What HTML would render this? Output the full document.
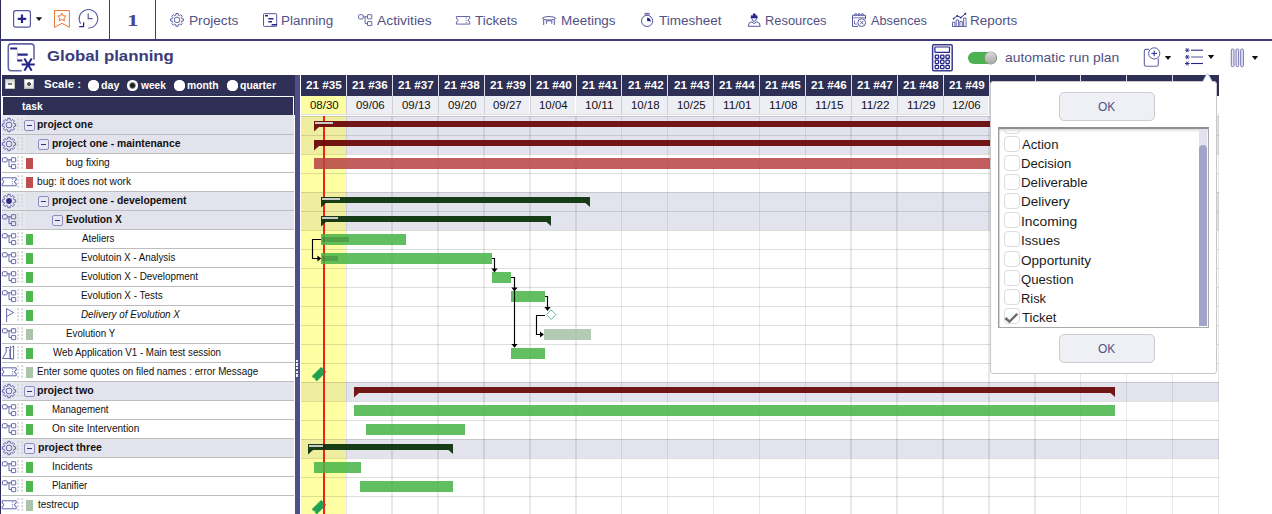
<!DOCTYPE html>
<html><head><meta charset="utf-8"><title>Global planning</title>
<style>
html,body{margin:0;padding:0;background:#fff;}
html{width:1272px;height:514px;overflow:hidden;}
body{width:1272px;height:514px;overflow:hidden;position:relative;font-family:"Liberation Sans",sans-serif;}
.t{position:absolute;white-space:nowrap;line-height:1;transform-origin:0 0;display:block;}
.b{position:absolute;}
svg{position:absolute;left:0;top:0;overflow:visible;}
</style></head><body>
<div id="app" style="position:absolute;left:0;top:0;width:1272px;height:514px;overflow:hidden">
<div class="b" style="left:0.00px;top:0.00px;width:1.00px;height:514.00px;background:#2c2c58"></div>
<div class="b" style="left:0.00px;top:39.00px;width:1272.00px;height:2.00px;background:#3c3c78"></div>
<div class="b" style="left:109.00px;top:0.00px;width:1.00px;height:39.00px;background:#3c3c78"></div>
<div class="b" style="left:155.00px;top:0.00px;width:1.00px;height:39.00px;background:#3c3c78"></div>
<div class="b" style="left:2.00px;top:75.00px;width:293.00px;height:21.00px;background:#2e2f54"></div>
<div class="b" style="left:2.00px;top:96.00px;width:293.00px;height:19.00px;background:#2e2f54"></div>
<div class="b" style="left:2.00px;top:96.00px;width:292.00px;height:1.00px;background:#fff"></div>
<div class="b" style="left:2.00px;top:97.00px;width:1.00px;height:18.00px;background:#fff"></div>
<div class="b" style="left:293.00px;top:97.00px;width:1.00px;height:18.00px;background:#fff"></div>
<div class="b" style="left:5px;top:79px;width:10px;height:10px;background:linear-gradient(#cfcfcf,#fff 75%);box-shadow:inset 0 0 0 0.7px #b0b0a8"></div>
<div class="b" style="left:7.70px;top:83.10px;width:4.40px;height:1.60px;background:#7a7a7a"></div>
<div class="b" style="left:24px;top:79px;width:10px;height:10px;background:linear-gradient(#fff 25%,#cdcdcd);box-shadow:inset 0 0 0 0.7px #b0b0a8"></div>
<div class="b" style="left:26.90px;top:83.20px;width:4.00px;height:1.60px;background:#555"></div>
<div class="b" style="left:28.10px;top:82.00px;width:1.60px;height:4.00px;background:#555"></div>
<div class="b" style="left:88.2px;top:80px;width:10.6px;height:10.6px;border-radius:50%;background:#fff;box-shadow:0 0 0.6px #fff"></div>
<div class="b" style="left:127.2px;top:80px;width:10.6px;height:10.6px;border-radius:50%;background:radial-gradient(circle closest-side,#0c0c0c 0,#333 40%,#fff 70%);box-shadow:0 0 0.6px #fff"></div>
<div class="b" style="left:174.3px;top:80px;width:10.6px;height:10.6px;border-radius:50%;background:#fff;box-shadow:0 0 0.6px #fff"></div>
<div class="b" style="left:227.3px;top:80px;width:10.6px;height:10.6px;border-radius:50%;background:#fff;box-shadow:0 0 0.6px #fff"></div>
<div class="b" style="left:2.00px;top:115.00px;width:292.00px;height:19.00px;background:#e3e3ee"></div>
<div class="b" style="left:2.00px;top:115.00px;width:23.00px;height:19.00px;background:#e8e8f1"></div>
<div class="b" style="left:2.00px;top:134.00px;width:292.00px;height:19.00px;background:#e3e3ee"></div>
<div class="b" style="left:2.00px;top:134.00px;width:23.00px;height:19.00px;background:#e8e8f1"></div>
<div class="b" style="left:2.00px;top:191.00px;width:292.00px;height:19.00px;background:#e3e3ee"></div>
<div class="b" style="left:2.00px;top:191.00px;width:23.00px;height:19.00px;background:#e8e8f1"></div>
<div class="b" style="left:2.00px;top:210.00px;width:292.00px;height:19.00px;background:#e3e3ee"></div>
<div class="b" style="left:2.00px;top:210.00px;width:23.00px;height:19.00px;background:#e8e8f1"></div>
<div class="b" style="left:2.00px;top:381.00px;width:292.00px;height:19.00px;background:#e3e3ee"></div>
<div class="b" style="left:2.00px;top:381.00px;width:23.00px;height:19.00px;background:#e8e8f1"></div>
<div class="b" style="left:2.00px;top:438.00px;width:292.00px;height:19.00px;background:#e3e3ee"></div>
<div class="b" style="left:2.00px;top:438.00px;width:23.00px;height:19.00px;background:#e8e8f1"></div>
<div class="b" style="left:2.00px;top:134.00px;width:292.00px;height:1.00px;background:#bdbdbd"></div>
<div class="b" style="left:24.0px;top:120.0px;width:9px;height:9px;border:1px solid #8d8dc0;border-radius:2px;background:#e9e9f3;box-sizing:content-box"></div>
<div class="b" style="left:27.00px;top:124.60px;width:5.00px;height:1.20px;background:#33337a"></div>
<div class="b" style="left:2.00px;top:153.00px;width:292.00px;height:1.00px;background:#bdbdbd"></div>
<div class="b" style="left:38.0px;top:139.0px;width:9px;height:9px;border:1px solid #8d8dc0;border-radius:2px;background:#e9e9f3;box-sizing:content-box"></div>
<div class="b" style="left:41.00px;top:143.60px;width:5.00px;height:1.20px;background:#33337a"></div>
<div class="b" style="left:2.00px;top:172.00px;width:292.00px;height:1.00px;background:#bdbdbd"></div>
<div class="b" style="left:26.00px;top:158.00px;width:7.00px;height:11.00px;background:#bf4f4f"></div>
<div class="b" style="left:2.00px;top:191.00px;width:292.00px;height:1.00px;background:#bdbdbd"></div>
<div class="b" style="left:26.00px;top:177.00px;width:7.00px;height:11.00px;background:#bf4f4f"></div>
<div class="b" style="left:2.00px;top:210.00px;width:292.00px;height:1.00px;background:#bdbdbd"></div>
<div class="b" style="left:38.0px;top:196.0px;width:9px;height:9px;border:1px solid #8d8dc0;border-radius:2px;background:#e9e9f3;box-sizing:content-box"></div>
<div class="b" style="left:41.00px;top:200.60px;width:5.00px;height:1.20px;background:#33337a"></div>
<div class="b" style="left:2.00px;top:229.00px;width:292.00px;height:1.00px;background:#bdbdbd"></div>
<div class="b" style="left:52.4px;top:215.0px;width:9px;height:9px;border:1px solid #8d8dc0;border-radius:2px;background:#e9e9f3;box-sizing:content-box"></div>
<div class="b" style="left:55.40px;top:219.60px;width:5.00px;height:1.20px;background:#33337a"></div>
<div class="b" style="left:2.00px;top:248.00px;width:292.00px;height:1.00px;background:#bdbdbd"></div>
<div class="b" style="left:26.00px;top:234.00px;width:7.00px;height:11.00px;background:#4db84d"></div>
<div class="b" style="left:2.00px;top:267.00px;width:292.00px;height:1.00px;background:#bdbdbd"></div>
<div class="b" style="left:26.00px;top:253.00px;width:7.00px;height:11.00px;background:#4db84d"></div>
<div class="b" style="left:2.00px;top:286.00px;width:292.00px;height:1.00px;background:#bdbdbd"></div>
<div class="b" style="left:26.00px;top:272.00px;width:7.00px;height:11.00px;background:#4db84d"></div>
<div class="b" style="left:2.00px;top:305.00px;width:292.00px;height:1.00px;background:#bdbdbd"></div>
<div class="b" style="left:26.00px;top:291.00px;width:7.00px;height:11.00px;background:#4db84d"></div>
<div class="b" style="left:2.00px;top:324.00px;width:292.00px;height:1.00px;background:#bdbdbd"></div>
<div class="b" style="left:26.00px;top:310.00px;width:7.00px;height:11.00px;background:#4db84d"></div>
<div class="b" style="left:2.00px;top:343.00px;width:292.00px;height:1.00px;background:#bdbdbd"></div>
<div class="b" style="left:26.00px;top:329.00px;width:7.00px;height:11.00px;background:#a9c4a9"></div>
<div class="b" style="left:2.00px;top:362.00px;width:292.00px;height:1.00px;background:#bdbdbd"></div>
<div class="b" style="left:26.00px;top:348.00px;width:7.00px;height:11.00px;background:#4db84d"></div>
<div class="b" style="left:2.00px;top:381.00px;width:292.00px;height:1.00px;background:#bdbdbd"></div>
<div class="b" style="left:26.00px;top:367.00px;width:7.00px;height:11.00px;background:#a9c4a9"></div>
<div class="b" style="left:2.00px;top:400.00px;width:292.00px;height:1.00px;background:#bdbdbd"></div>
<div class="b" style="left:24.0px;top:386.0px;width:9px;height:9px;border:1px solid #8d8dc0;border-radius:2px;background:#e9e9f3;box-sizing:content-box"></div>
<div class="b" style="left:27.00px;top:390.60px;width:5.00px;height:1.20px;background:#33337a"></div>
<div class="b" style="left:2.00px;top:419.00px;width:292.00px;height:1.00px;background:#bdbdbd"></div>
<div class="b" style="left:26.00px;top:405.00px;width:7.00px;height:11.00px;background:#4db84d"></div>
<div class="b" style="left:2.00px;top:438.00px;width:292.00px;height:1.00px;background:#bdbdbd"></div>
<div class="b" style="left:26.00px;top:424.00px;width:7.00px;height:11.00px;background:#4db84d"></div>
<div class="b" style="left:2.00px;top:457.00px;width:292.00px;height:1.00px;background:#bdbdbd"></div>
<div class="b" style="left:24.2px;top:443.0px;width:9px;height:9px;border:1px solid #8d8dc0;border-radius:2px;background:#e9e9f3;box-sizing:content-box"></div>
<div class="b" style="left:27.20px;top:447.60px;width:5.00px;height:1.20px;background:#33337a"></div>
<div class="b" style="left:2.00px;top:476.00px;width:292.00px;height:1.00px;background:#bdbdbd"></div>
<div class="b" style="left:26.00px;top:462.00px;width:7.00px;height:11.00px;background:#4db84d"></div>
<div class="b" style="left:2.00px;top:495.00px;width:292.00px;height:1.00px;background:#bdbdbd"></div>
<div class="b" style="left:26.00px;top:481.00px;width:7.00px;height:11.00px;background:#4db84d"></div>
<div class="b" style="left:2.00px;top:514.00px;width:292.00px;height:1.00px;background:#bdbdbd"></div>
<div class="b" style="left:26.00px;top:500.00px;width:7.00px;height:11.00px;background:#a9c4a9"></div>
<svg width="1272" height="514" viewBox="0 0 1272 514"><path d="M15.70 123.83 L15.70 126.17 L14.06 126.21 L13.43 127.72 L14.56 128.91 L12.91 130.56 L11.72 129.43 L10.21 130.06 L10.17 131.70 L7.83 131.70 L7.79 130.06 L6.28 129.43 L5.09 130.56 L3.44 128.91 L4.57 127.72 L3.94 126.21 L2.30 126.17 L2.30 123.83 L3.94 123.79 L4.57 122.28 L3.44 121.09 L5.09 119.44 L6.28 120.57 L7.79 119.94 L7.83 118.30 L10.17 118.30 L10.21 119.94 L11.72 120.57 L12.91 119.44 L14.56 121.09 L13.43 122.28 L14.06 123.79Z" fill="none" stroke="#5757a0" stroke-width="0.90" stroke-linejoin="round"/><circle cx="9.00" cy="125.00" r="2.90" fill="none" stroke="#5757a0" stroke-width="0.90"/><rect x="17.2" y="118.2" width="2" height="2" fill="#d6d6d6"/><rect x="21.2" y="118.2" width="2" height="2" fill="#d6d6d6"/><rect x="17.2" y="121.7" width="2" height="2" fill="#d6d6d6"/><rect x="21.2" y="121.7" width="2" height="2" fill="#d6d6d6"/><rect x="17.2" y="125.2" width="2" height="2" fill="#d6d6d6"/><rect x="21.2" y="125.2" width="2" height="2" fill="#d6d6d6"/><rect x="17.2" y="128.7" width="2" height="2" fill="#d6d6d6"/><rect x="21.2" y="128.7" width="2" height="2" fill="#d6d6d6"/><path d="M15.70 142.83 L15.70 145.17 L14.06 145.21 L13.43 146.72 L14.56 147.91 L12.91 149.56 L11.72 148.43 L10.21 149.06 L10.17 150.70 L7.83 150.70 L7.79 149.06 L6.28 148.43 L5.09 149.56 L3.44 147.91 L4.57 146.72 L3.94 145.21 L2.30 145.17 L2.30 142.83 L3.94 142.79 L4.57 141.28 L3.44 140.09 L5.09 138.44 L6.28 139.57 L7.79 138.94 L7.83 137.30 L10.17 137.30 L10.21 138.94 L11.72 139.57 L12.91 138.44 L14.56 140.09 L13.43 141.28 L14.06 142.79Z" fill="none" stroke="#5757a0" stroke-width="0.90" stroke-linejoin="round"/><circle cx="9.00" cy="144.00" r="2.90" fill="none" stroke="#5757a0" stroke-width="0.90"/><rect x="17.2" y="137.2" width="2" height="2" fill="#d6d6d6"/><rect x="21.2" y="137.2" width="2" height="2" fill="#d6d6d6"/><rect x="17.2" y="140.7" width="2" height="2" fill="#d6d6d6"/><rect x="21.2" y="140.7" width="2" height="2" fill="#d6d6d6"/><rect x="17.2" y="144.2" width="2" height="2" fill="#d6d6d6"/><rect x="21.2" y="144.2" width="2" height="2" fill="#d6d6d6"/><rect x="17.2" y="147.7" width="2" height="2" fill="#d6d6d6"/><rect x="21.2" y="147.7" width="2" height="2" fill="#d6d6d6"/><g fill="none" stroke="#5757a0" stroke-width="0.90"><rect x="2.40" y="157.70" width="4.8" height="4.2" rx="1.1"/><rect x="11.40" y="157.70" width="4.3" height="4.2" rx="0.4"/><rect x="11.40" y="164.60" width="4.3" height="4.0" rx="0.4"/><path d="M7.40 159.80 H11.40 M9.00 159.80 V166.60 H11.40"/></g><rect x="17.2" y="156.2" width="2" height="2" fill="#d6d6d6"/><rect x="21.2" y="156.2" width="2" height="2" fill="#d6d6d6"/><rect x="17.2" y="159.7" width="2" height="2" fill="#d6d6d6"/><rect x="21.2" y="159.7" width="2" height="2" fill="#d6d6d6"/><rect x="17.2" y="163.2" width="2" height="2" fill="#d6d6d6"/><rect x="21.2" y="163.2" width="2" height="2" fill="#d6d6d6"/><rect x="17.2" y="166.7" width="2" height="2" fill="#d6d6d6"/><rect x="21.2" y="166.7" width="2" height="2" fill="#d6d6d6"/><path d="M2.20 177.80 H16.20 V180.20 A1.60 1.60 0 0 0 16.20 183.40 V185.80 H2.20 V183.40 A1.60 1.60 0 0 0 2.20 180.20 Z" fill="none" stroke="#5757a0" stroke-width="0.90" stroke-linejoin="round"/><path d="M12.60 178.60 V185.30" stroke="#5757a0" stroke-width="0.8" stroke-dasharray="1.2 1.2" fill="none"/><rect x="17.2" y="175.2" width="2" height="2" fill="#d6d6d6"/><rect x="21.2" y="175.2" width="2" height="2" fill="#d6d6d6"/><rect x="17.2" y="178.7" width="2" height="2" fill="#d6d6d6"/><rect x="21.2" y="178.7" width="2" height="2" fill="#d6d6d6"/><rect x="17.2" y="182.2" width="2" height="2" fill="#d6d6d6"/><rect x="21.2" y="182.2" width="2" height="2" fill="#d6d6d6"/><rect x="17.2" y="185.7" width="2" height="2" fill="#d6d6d6"/><rect x="21.2" y="185.7" width="2" height="2" fill="#d6d6d6"/><path d="M15.70 199.83 L15.70 202.17 L14.06 202.21 L13.43 203.72 L14.56 204.91 L12.91 206.56 L11.72 205.43 L10.21 206.06 L10.17 207.70 L7.83 207.70 L7.79 206.06 L6.28 205.43 L5.09 206.56 L3.44 204.91 L4.57 203.72 L3.94 202.21 L2.30 202.17 L2.30 199.83 L3.94 199.79 L4.57 198.28 L3.44 197.09 L5.09 195.44 L6.28 196.57 L7.79 195.94 L7.83 194.30 L10.17 194.30 L10.21 195.94 L11.72 196.57 L12.91 195.44 L14.56 197.09 L13.43 198.28 L14.06 199.79Z" fill="none" stroke="#5757a0" stroke-width="0.90" stroke-linejoin="round"/><circle cx="9.00" cy="201.00" r="2.90" fill="#2f2f8a"/><rect x="17.2" y="194.2" width="2" height="2" fill="#d6d6d6"/><rect x="21.2" y="194.2" width="2" height="2" fill="#d6d6d6"/><rect x="17.2" y="197.7" width="2" height="2" fill="#d6d6d6"/><rect x="21.2" y="197.7" width="2" height="2" fill="#d6d6d6"/><rect x="17.2" y="201.2" width="2" height="2" fill="#d6d6d6"/><rect x="21.2" y="201.2" width="2" height="2" fill="#d6d6d6"/><rect x="17.2" y="204.7" width="2" height="2" fill="#d6d6d6"/><rect x="21.2" y="204.7" width="2" height="2" fill="#d6d6d6"/><g fill="none" stroke="#5757a0" stroke-width="0.90"><rect x="2.40" y="214.70" width="4.8" height="4.2" rx="1.1"/><rect x="11.40" y="214.70" width="4.3" height="4.2" rx="0.4"/><rect x="11.40" y="221.60" width="4.3" height="4.0" rx="0.4"/><path d="M7.40 216.80 H11.40 M9.00 216.80 V223.60 H11.40"/></g><rect x="17.2" y="213.2" width="2" height="2" fill="#d6d6d6"/><rect x="21.2" y="213.2" width="2" height="2" fill="#d6d6d6"/><rect x="17.2" y="216.7" width="2" height="2" fill="#d6d6d6"/><rect x="21.2" y="216.7" width="2" height="2" fill="#d6d6d6"/><rect x="17.2" y="220.2" width="2" height="2" fill="#d6d6d6"/><rect x="21.2" y="220.2" width="2" height="2" fill="#d6d6d6"/><rect x="17.2" y="223.7" width="2" height="2" fill="#d6d6d6"/><rect x="21.2" y="223.7" width="2" height="2" fill="#d6d6d6"/><g fill="none" stroke="#5757a0" stroke-width="0.90"><rect x="2.40" y="233.70" width="4.8" height="4.2" rx="1.1"/><rect x="11.40" y="233.70" width="4.3" height="4.2" rx="0.4"/><rect x="11.40" y="240.60" width="4.3" height="4.0" rx="0.4"/><path d="M7.40 235.80 H11.40 M9.00 235.80 V242.60 H11.40"/></g><rect x="17.2" y="232.2" width="2" height="2" fill="#d6d6d6"/><rect x="21.2" y="232.2" width="2" height="2" fill="#d6d6d6"/><rect x="17.2" y="235.7" width="2" height="2" fill="#d6d6d6"/><rect x="21.2" y="235.7" width="2" height="2" fill="#d6d6d6"/><rect x="17.2" y="239.2" width="2" height="2" fill="#d6d6d6"/><rect x="21.2" y="239.2" width="2" height="2" fill="#d6d6d6"/><rect x="17.2" y="242.7" width="2" height="2" fill="#d6d6d6"/><rect x="21.2" y="242.7" width="2" height="2" fill="#d6d6d6"/><g fill="none" stroke="#5757a0" stroke-width="0.90"><rect x="2.40" y="252.70" width="4.8" height="4.2" rx="1.1"/><rect x="11.40" y="252.70" width="4.3" height="4.2" rx="0.4"/><rect x="11.40" y="259.60" width="4.3" height="4.0" rx="0.4"/><path d="M7.40 254.80 H11.40 M9.00 254.80 V261.60 H11.40"/></g><rect x="17.2" y="251.2" width="2" height="2" fill="#d6d6d6"/><rect x="21.2" y="251.2" width="2" height="2" fill="#d6d6d6"/><rect x="17.2" y="254.7" width="2" height="2" fill="#d6d6d6"/><rect x="21.2" y="254.7" width="2" height="2" fill="#d6d6d6"/><rect x="17.2" y="258.2" width="2" height="2" fill="#d6d6d6"/><rect x="21.2" y="258.2" width="2" height="2" fill="#d6d6d6"/><rect x="17.2" y="261.7" width="2" height="2" fill="#d6d6d6"/><rect x="21.2" y="261.7" width="2" height="2" fill="#d6d6d6"/><g fill="none" stroke="#5757a0" stroke-width="0.90"><rect x="2.40" y="271.70" width="4.8" height="4.2" rx="1.1"/><rect x="11.40" y="271.70" width="4.3" height="4.2" rx="0.4"/><rect x="11.40" y="278.60" width="4.3" height="4.0" rx="0.4"/><path d="M7.40 273.80 H11.40 M9.00 273.80 V280.60 H11.40"/></g><rect x="17.2" y="270.2" width="2" height="2" fill="#d6d6d6"/><rect x="21.2" y="270.2" width="2" height="2" fill="#d6d6d6"/><rect x="17.2" y="273.7" width="2" height="2" fill="#d6d6d6"/><rect x="21.2" y="273.7" width="2" height="2" fill="#d6d6d6"/><rect x="17.2" y="277.2" width="2" height="2" fill="#d6d6d6"/><rect x="21.2" y="277.2" width="2" height="2" fill="#d6d6d6"/><rect x="17.2" y="280.7" width="2" height="2" fill="#d6d6d6"/><rect x="21.2" y="280.7" width="2" height="2" fill="#d6d6d6"/><g fill="none" stroke="#5757a0" stroke-width="0.90"><rect x="2.40" y="290.70" width="4.8" height="4.2" rx="1.1"/><rect x="11.40" y="290.70" width="4.3" height="4.2" rx="0.4"/><rect x="11.40" y="297.60" width="4.3" height="4.0" rx="0.4"/><path d="M7.40 292.80 H11.40 M9.00 292.80 V299.60 H11.40"/></g><rect x="17.2" y="289.2" width="2" height="2" fill="#d6d6d6"/><rect x="21.2" y="289.2" width="2" height="2" fill="#d6d6d6"/><rect x="17.2" y="292.7" width="2" height="2" fill="#d6d6d6"/><rect x="21.2" y="292.7" width="2" height="2" fill="#d6d6d6"/><rect x="17.2" y="296.2" width="2" height="2" fill="#d6d6d6"/><rect x="21.2" y="296.2" width="2" height="2" fill="#d6d6d6"/><rect x="17.2" y="299.7" width="2" height="2" fill="#d6d6d6"/><rect x="21.2" y="299.7" width="2" height="2" fill="#d6d6d6"/><path d="M6.60 308.50 V322.00 M6.60 308.80 L13.60 312.50 L6.60 316.50" fill="none" stroke="#5757a0" stroke-width="0.90" stroke-linejoin="round"/><rect x="17.2" y="308.2" width="2" height="2" fill="#d6d6d6"/><rect x="21.2" y="308.2" width="2" height="2" fill="#d6d6d6"/><rect x="17.2" y="311.7" width="2" height="2" fill="#d6d6d6"/><rect x="21.2" y="311.7" width="2" height="2" fill="#d6d6d6"/><rect x="17.2" y="315.2" width="2" height="2" fill="#d6d6d6"/><rect x="21.2" y="315.2" width="2" height="2" fill="#d6d6d6"/><rect x="17.2" y="318.7" width="2" height="2" fill="#d6d6d6"/><rect x="21.2" y="318.7" width="2" height="2" fill="#d6d6d6"/><g fill="none" stroke="#5757a0" stroke-width="0.90"><rect x="2.40" y="328.70" width="4.8" height="4.2" rx="1.1"/><rect x="11.40" y="328.70" width="4.3" height="4.2" rx="0.4"/><rect x="11.40" y="335.60" width="4.3" height="4.0" rx="0.4"/><path d="M7.40 330.80 H11.40 M9.00 330.80 V337.60 H11.40"/></g><rect x="17.2" y="327.2" width="2" height="2" fill="#d6d6d6"/><rect x="21.2" y="327.2" width="2" height="2" fill="#d6d6d6"/><rect x="17.2" y="330.7" width="2" height="2" fill="#d6d6d6"/><rect x="21.2" y="330.7" width="2" height="2" fill="#d6d6d6"/><rect x="17.2" y="334.2" width="2" height="2" fill="#d6d6d6"/><rect x="21.2" y="334.2" width="2" height="2" fill="#d6d6d6"/><rect x="17.2" y="337.7" width="2" height="2" fill="#d6d6d6"/><rect x="21.2" y="337.7" width="2" height="2" fill="#d6d6d6"/><g fill="none" stroke="#5757a0" stroke-width="0.90" stroke-linejoin="round"><path d="M5.40 347.50 h3.6 M6.20 347.50 v4.5 l-3.6 6.5 h9"/><path d="M11.40 347.60 l2.2 -1.6 v13 h-3.2 v-13.0"/><path d="M10.00 348.50 v9"/></g><rect x="17.2" y="346.2" width="2" height="2" fill="#d6d6d6"/><rect x="21.2" y="346.2" width="2" height="2" fill="#d6d6d6"/><rect x="17.2" y="349.7" width="2" height="2" fill="#d6d6d6"/><rect x="21.2" y="349.7" width="2" height="2" fill="#d6d6d6"/><rect x="17.2" y="353.2" width="2" height="2" fill="#d6d6d6"/><rect x="21.2" y="353.2" width="2" height="2" fill="#d6d6d6"/><rect x="17.2" y="356.7" width="2" height="2" fill="#d6d6d6"/><rect x="21.2" y="356.7" width="2" height="2" fill="#d6d6d6"/><path d="M2.20 367.80 H16.20 V370.20 A1.60 1.60 0 0 0 16.20 373.40 V375.80 H2.20 V373.40 A1.60 1.60 0 0 0 2.20 370.20 Z" fill="none" stroke="#5757a0" stroke-width="0.90" stroke-linejoin="round"/><path d="M12.60 368.60 V375.30" stroke="#5757a0" stroke-width="0.8" stroke-dasharray="1.2 1.2" fill="none"/><rect x="17.2" y="365.2" width="2" height="2" fill="#d6d6d6"/><rect x="21.2" y="365.2" width="2" height="2" fill="#d6d6d6"/><rect x="17.2" y="368.7" width="2" height="2" fill="#d6d6d6"/><rect x="21.2" y="368.7" width="2" height="2" fill="#d6d6d6"/><rect x="17.2" y="372.2" width="2" height="2" fill="#d6d6d6"/><rect x="21.2" y="372.2" width="2" height="2" fill="#d6d6d6"/><rect x="17.2" y="375.7" width="2" height="2" fill="#d6d6d6"/><rect x="21.2" y="375.7" width="2" height="2" fill="#d6d6d6"/><path d="M15.70 389.83 L15.70 392.17 L14.06 392.21 L13.43 393.72 L14.56 394.91 L12.91 396.56 L11.72 395.43 L10.21 396.06 L10.17 397.70 L7.83 397.70 L7.79 396.06 L6.28 395.43 L5.09 396.56 L3.44 394.91 L4.57 393.72 L3.94 392.21 L2.30 392.17 L2.30 389.83 L3.94 389.79 L4.57 388.28 L3.44 387.09 L5.09 385.44 L6.28 386.57 L7.79 385.94 L7.83 384.30 L10.17 384.30 L10.21 385.94 L11.72 386.57 L12.91 385.44 L14.56 387.09 L13.43 388.28 L14.06 389.79Z" fill="none" stroke="#5757a0" stroke-width="0.90" stroke-linejoin="round"/><circle cx="9.00" cy="391.00" r="2.90" fill="none" stroke="#5757a0" stroke-width="0.90"/><rect x="17.2" y="384.2" width="2" height="2" fill="#d6d6d6"/><rect x="21.2" y="384.2" width="2" height="2" fill="#d6d6d6"/><rect x="17.2" y="387.7" width="2" height="2" fill="#d6d6d6"/><rect x="21.2" y="387.7" width="2" height="2" fill="#d6d6d6"/><rect x="17.2" y="391.2" width="2" height="2" fill="#d6d6d6"/><rect x="21.2" y="391.2" width="2" height="2" fill="#d6d6d6"/><rect x="17.2" y="394.7" width="2" height="2" fill="#d6d6d6"/><rect x="21.2" y="394.7" width="2" height="2" fill="#d6d6d6"/><g fill="none" stroke="#5757a0" stroke-width="0.90"><rect x="2.40" y="404.70" width="4.8" height="4.2" rx="1.1"/><rect x="11.40" y="404.70" width="4.3" height="4.2" rx="0.4"/><rect x="11.40" y="411.60" width="4.3" height="4.0" rx="0.4"/><path d="M7.40 406.80 H11.40 M9.00 406.80 V413.60 H11.40"/></g><rect x="17.2" y="403.2" width="2" height="2" fill="#d6d6d6"/><rect x="21.2" y="403.2" width="2" height="2" fill="#d6d6d6"/><rect x="17.2" y="406.7" width="2" height="2" fill="#d6d6d6"/><rect x="21.2" y="406.7" width="2" height="2" fill="#d6d6d6"/><rect x="17.2" y="410.2" width="2" height="2" fill="#d6d6d6"/><rect x="21.2" y="410.2" width="2" height="2" fill="#d6d6d6"/><rect x="17.2" y="413.7" width="2" height="2" fill="#d6d6d6"/><rect x="21.2" y="413.7" width="2" height="2" fill="#d6d6d6"/><g fill="none" stroke="#5757a0" stroke-width="0.90"><rect x="2.40" y="423.70" width="4.8" height="4.2" rx="1.1"/><rect x="11.40" y="423.70" width="4.3" height="4.2" rx="0.4"/><rect x="11.40" y="430.60" width="4.3" height="4.0" rx="0.4"/><path d="M7.40 425.80 H11.40 M9.00 425.80 V432.60 H11.40"/></g><rect x="17.2" y="422.2" width="2" height="2" fill="#d6d6d6"/><rect x="21.2" y="422.2" width="2" height="2" fill="#d6d6d6"/><rect x="17.2" y="425.7" width="2" height="2" fill="#d6d6d6"/><rect x="21.2" y="425.7" width="2" height="2" fill="#d6d6d6"/><rect x="17.2" y="429.2" width="2" height="2" fill="#d6d6d6"/><rect x="21.2" y="429.2" width="2" height="2" fill="#d6d6d6"/><rect x="17.2" y="432.7" width="2" height="2" fill="#d6d6d6"/><rect x="21.2" y="432.7" width="2" height="2" fill="#d6d6d6"/><path d="M15.70 446.83 L15.70 449.17 L14.06 449.21 L13.43 450.72 L14.56 451.91 L12.91 453.56 L11.72 452.43 L10.21 453.06 L10.17 454.70 L7.83 454.70 L7.79 453.06 L6.28 452.43 L5.09 453.56 L3.44 451.91 L4.57 450.72 L3.94 449.21 L2.30 449.17 L2.30 446.83 L3.94 446.79 L4.57 445.28 L3.44 444.09 L5.09 442.44 L6.28 443.57 L7.79 442.94 L7.83 441.30 L10.17 441.30 L10.21 442.94 L11.72 443.57 L12.91 442.44 L14.56 444.09 L13.43 445.28 L14.06 446.79Z" fill="none" stroke="#5757a0" stroke-width="0.90" stroke-linejoin="round"/><circle cx="9.00" cy="448.00" r="2.90" fill="none" stroke="#5757a0" stroke-width="0.90"/><rect x="17.2" y="441.2" width="2" height="2" fill="#d6d6d6"/><rect x="21.2" y="441.2" width="2" height="2" fill="#d6d6d6"/><rect x="17.2" y="444.7" width="2" height="2" fill="#d6d6d6"/><rect x="21.2" y="444.7" width="2" height="2" fill="#d6d6d6"/><rect x="17.2" y="448.2" width="2" height="2" fill="#d6d6d6"/><rect x="21.2" y="448.2" width="2" height="2" fill="#d6d6d6"/><rect x="17.2" y="451.7" width="2" height="2" fill="#d6d6d6"/><rect x="21.2" y="451.7" width="2" height="2" fill="#d6d6d6"/><g fill="none" stroke="#5757a0" stroke-width="0.90"><rect x="2.40" y="461.70" width="4.8" height="4.2" rx="1.1"/><rect x="11.40" y="461.70" width="4.3" height="4.2" rx="0.4"/><rect x="11.40" y="468.60" width="4.3" height="4.0" rx="0.4"/><path d="M7.40 463.80 H11.40 M9.00 463.80 V470.60 H11.40"/></g><rect x="17.2" y="460.2" width="2" height="2" fill="#d6d6d6"/><rect x="21.2" y="460.2" width="2" height="2" fill="#d6d6d6"/><rect x="17.2" y="463.7" width="2" height="2" fill="#d6d6d6"/><rect x="21.2" y="463.7" width="2" height="2" fill="#d6d6d6"/><rect x="17.2" y="467.2" width="2" height="2" fill="#d6d6d6"/><rect x="21.2" y="467.2" width="2" height="2" fill="#d6d6d6"/><rect x="17.2" y="470.7" width="2" height="2" fill="#d6d6d6"/><rect x="21.2" y="470.7" width="2" height="2" fill="#d6d6d6"/><g fill="none" stroke="#5757a0" stroke-width="0.90"><rect x="2.40" y="480.70" width="4.8" height="4.2" rx="1.1"/><rect x="11.40" y="480.70" width="4.3" height="4.2" rx="0.4"/><rect x="11.40" y="487.60" width="4.3" height="4.0" rx="0.4"/><path d="M7.40 482.80 H11.40 M9.00 482.80 V489.60 H11.40"/></g><rect x="17.2" y="479.2" width="2" height="2" fill="#d6d6d6"/><rect x="21.2" y="479.2" width="2" height="2" fill="#d6d6d6"/><rect x="17.2" y="482.7" width="2" height="2" fill="#d6d6d6"/><rect x="21.2" y="482.7" width="2" height="2" fill="#d6d6d6"/><rect x="17.2" y="486.2" width="2" height="2" fill="#d6d6d6"/><rect x="21.2" y="486.2" width="2" height="2" fill="#d6d6d6"/><rect x="17.2" y="489.7" width="2" height="2" fill="#d6d6d6"/><rect x="21.2" y="489.7" width="2" height="2" fill="#d6d6d6"/><path d="M2.20 500.80 H16.20 V503.20 A1.60 1.60 0 0 0 16.20 506.40 V508.80 H2.20 V506.40 A1.60 1.60 0 0 0 2.20 503.20 Z" fill="none" stroke="#5757a0" stroke-width="0.90" stroke-linejoin="round"/><path d="M12.60 501.60 V508.30" stroke="#5757a0" stroke-width="0.8" stroke-dasharray="1.2 1.2" fill="none"/><rect x="17.2" y="498.2" width="2" height="2" fill="#d6d6d6"/><rect x="21.2" y="498.2" width="2" height="2" fill="#d6d6d6"/><rect x="17.2" y="501.7" width="2" height="2" fill="#d6d6d6"/><rect x="21.2" y="501.7" width="2" height="2" fill="#d6d6d6"/><rect x="17.2" y="505.2" width="2" height="2" fill="#d6d6d6"/><rect x="21.2" y="505.2" width="2" height="2" fill="#d6d6d6"/><rect x="17.2" y="508.7" width="2" height="2" fill="#d6d6d6"/><rect x="21.2" y="508.7" width="2" height="2" fill="#d6d6d6"/></svg>
<div class="b" style="left:295.00px;top:75.00px;width:5.00px;height:439.00px;background:#4f4f87"></div>
<div class="b" style="left:296.00px;top:359.50px;width:2.00px;height:2.60px;background:#f0f0f0"></div>
<div class="b" style="left:296.00px;top:363.20px;width:2.00px;height:2.60px;background:#f0f0f0"></div>
<div class="b" style="left:296.00px;top:366.90px;width:2.00px;height:2.60px;background:#f0f0f0"></div>
<div class="b" style="left:296.00px;top:370.60px;width:2.00px;height:2.60px;background:#f0f0f0"></div>
<div class="b" style="left:296.00px;top:374.30px;width:2.00px;height:2.60px;background:#f0f0f0"></div>
<div class="b" style="left:301.00px;top:75.00px;width:918.00px;height:21.00px;background:#2e2f54"></div>
<div class="b" style="left:301.00px;top:96.00px;width:44.90px;height:18.00px;background:#fdfda4"></div>
<div class="b" style="left:346.00px;top:75.00px;width:1.00px;height:21.00px;background:#dcdce6"></div>
<div class="b" style="left:346.00px;top:96.00px;width:1.00px;height:18.00px;background:#cfcfd6"></div>
<div class="b" style="left:346.90px;top:96.00px;width:44.90px;height:18.00px;background:#eeeef5"></div>
<div class="b" style="left:391.90px;top:75.00px;width:1.00px;height:21.00px;background:#dcdce6"></div>
<div class="b" style="left:391.90px;top:96.00px;width:1.00px;height:18.00px;background:#cfcfd6"></div>
<div class="b" style="left:392.80px;top:96.00px;width:44.90px;height:18.00px;background:#eeeef5"></div>
<div class="b" style="left:437.80px;top:75.00px;width:1.00px;height:21.00px;background:#dcdce6"></div>
<div class="b" style="left:437.80px;top:96.00px;width:1.00px;height:18.00px;background:#cfcfd6"></div>
<div class="b" style="left:438.70px;top:96.00px;width:44.90px;height:18.00px;background:#eeeef5"></div>
<div class="b" style="left:483.70px;top:75.00px;width:1.00px;height:21.00px;background:#dcdce6"></div>
<div class="b" style="left:483.70px;top:96.00px;width:1.00px;height:18.00px;background:#cfcfd6"></div>
<div class="b" style="left:484.60px;top:96.00px;width:44.90px;height:18.00px;background:#eeeef5"></div>
<div class="b" style="left:529.60px;top:75.00px;width:1.00px;height:21.00px;background:#dcdce6"></div>
<div class="b" style="left:529.60px;top:96.00px;width:1.00px;height:18.00px;background:#cfcfd6"></div>
<div class="b" style="left:530.50px;top:96.00px;width:44.90px;height:18.00px;background:#eeeef5"></div>
<div class="b" style="left:575.50px;top:75.00px;width:1.00px;height:21.00px;background:#dcdce6"></div>
<div class="b" style="left:575.50px;top:96.00px;width:1.00px;height:18.00px;background:#cfcfd6"></div>
<div class="b" style="left:576.40px;top:96.00px;width:44.90px;height:18.00px;background:#eeeef5"></div>
<div class="b" style="left:621.40px;top:75.00px;width:1.00px;height:21.00px;background:#dcdce6"></div>
<div class="b" style="left:621.40px;top:96.00px;width:1.00px;height:18.00px;background:#cfcfd6"></div>
<div class="b" style="left:622.30px;top:96.00px;width:44.90px;height:18.00px;background:#eeeef5"></div>
<div class="b" style="left:667.30px;top:75.00px;width:1.00px;height:21.00px;background:#dcdce6"></div>
<div class="b" style="left:667.30px;top:96.00px;width:1.00px;height:18.00px;background:#cfcfd6"></div>
<div class="b" style="left:668.20px;top:96.00px;width:44.90px;height:18.00px;background:#eeeef5"></div>
<div class="b" style="left:713.20px;top:75.00px;width:1.00px;height:21.00px;background:#dcdce6"></div>
<div class="b" style="left:713.20px;top:96.00px;width:1.00px;height:18.00px;background:#cfcfd6"></div>
<div class="b" style="left:714.10px;top:96.00px;width:44.90px;height:18.00px;background:#eeeef5"></div>
<div class="b" style="left:759.10px;top:75.00px;width:1.00px;height:21.00px;background:#dcdce6"></div>
<div class="b" style="left:759.10px;top:96.00px;width:1.00px;height:18.00px;background:#cfcfd6"></div>
<div class="b" style="left:760.00px;top:96.00px;width:44.90px;height:18.00px;background:#eeeef5"></div>
<div class="b" style="left:805.00px;top:75.00px;width:1.00px;height:21.00px;background:#dcdce6"></div>
<div class="b" style="left:805.00px;top:96.00px;width:1.00px;height:18.00px;background:#cfcfd6"></div>
<div class="b" style="left:805.90px;top:96.00px;width:44.90px;height:18.00px;background:#eeeef5"></div>
<div class="b" style="left:850.90px;top:75.00px;width:1.00px;height:21.00px;background:#dcdce6"></div>
<div class="b" style="left:850.90px;top:96.00px;width:1.00px;height:18.00px;background:#cfcfd6"></div>
<div class="b" style="left:851.80px;top:96.00px;width:44.90px;height:18.00px;background:#eeeef5"></div>
<div class="b" style="left:896.80px;top:75.00px;width:1.00px;height:21.00px;background:#dcdce6"></div>
<div class="b" style="left:896.80px;top:96.00px;width:1.00px;height:18.00px;background:#cfcfd6"></div>
<div class="b" style="left:897.70px;top:96.00px;width:44.90px;height:18.00px;background:#eeeef5"></div>
<div class="b" style="left:942.70px;top:75.00px;width:1.00px;height:21.00px;background:#dcdce6"></div>
<div class="b" style="left:942.70px;top:96.00px;width:1.00px;height:18.00px;background:#cfcfd6"></div>
<div class="b" style="left:943.60px;top:96.00px;width:44.90px;height:18.00px;background:#eeeef5"></div>
<div class="b" style="left:988.60px;top:75.00px;width:1.00px;height:21.00px;background:#dcdce6"></div>
<div class="b" style="left:988.60px;top:96.00px;width:1.00px;height:18.00px;background:#cfcfd6"></div>
<div class="b" style="left:1034.50px;top:75.00px;width:1.00px;height:21.00px;background:#dcdce6"></div>
<div class="b" style="left:1080.40px;top:75.00px;width:1.00px;height:21.00px;background:#dcdce6"></div>
<div class="b" style="left:1126.30px;top:75.00px;width:1.00px;height:21.00px;background:#dcdce6"></div>
<div class="b" style="left:1172.20px;top:75.00px;width:1.00px;height:21.00px;background:#dcdce6"></div>
<div class="b" style="left:301.00px;top:114.00px;width:918.00px;height:1.00px;background:#dedee4"></div>
<div class="b" style="left:301.00px;top:116.00px;width:918.20px;height:19.00px;background:#e3e3ee"></div>
<div class="b" style="left:301.00px;top:116.00px;width:45.00px;height:19.00px;background:#efed9f"></div>
<div class="b" style="left:301.00px;top:135.00px;width:918.20px;height:19.00px;background:#e3e3ee"></div>
<div class="b" style="left:301.00px;top:135.00px;width:45.00px;height:19.00px;background:#efed9f"></div>
<div class="b" style="left:301.00px;top:154.00px;width:45.00px;height:19.00px;background:#fefea3"></div>
<div class="b" style="left:301.00px;top:173.00px;width:45.00px;height:19.00px;background:#fefea3"></div>
<div class="b" style="left:301.00px;top:192.00px;width:918.20px;height:19.00px;background:#e3e3ee"></div>
<div class="b" style="left:301.00px;top:192.00px;width:45.00px;height:19.00px;background:#efed9f"></div>
<div class="b" style="left:301.00px;top:211.00px;width:918.20px;height:19.00px;background:#e3e3ee"></div>
<div class="b" style="left:301.00px;top:211.00px;width:45.00px;height:19.00px;background:#efed9f"></div>
<div class="b" style="left:301.00px;top:230.00px;width:45.00px;height:19.00px;background:#fefea3"></div>
<div class="b" style="left:301.00px;top:249.00px;width:45.00px;height:19.00px;background:#fefea3"></div>
<div class="b" style="left:301.00px;top:268.00px;width:45.00px;height:19.00px;background:#fefea3"></div>
<div class="b" style="left:301.00px;top:287.00px;width:45.00px;height:19.00px;background:#fefea3"></div>
<div class="b" style="left:301.00px;top:306.00px;width:45.00px;height:19.00px;background:#fefea3"></div>
<div class="b" style="left:301.00px;top:325.00px;width:45.00px;height:19.00px;background:#fefea3"></div>
<div class="b" style="left:301.00px;top:344.00px;width:45.00px;height:19.00px;background:#fefea3"></div>
<div class="b" style="left:301.00px;top:363.00px;width:45.00px;height:19.00px;background:#fefea3"></div>
<div class="b" style="left:301.00px;top:382.00px;width:918.20px;height:19.00px;background:#e3e3ee"></div>
<div class="b" style="left:301.00px;top:382.00px;width:45.00px;height:19.00px;background:#efed9f"></div>
<div class="b" style="left:301.00px;top:401.00px;width:45.00px;height:19.00px;background:#fefea3"></div>
<div class="b" style="left:301.00px;top:420.00px;width:45.00px;height:19.00px;background:#fefea3"></div>
<div class="b" style="left:301.00px;top:439.00px;width:918.20px;height:19.00px;background:#e3e3ee"></div>
<div class="b" style="left:301.00px;top:439.00px;width:45.00px;height:19.00px;background:#efed9f"></div>
<div class="b" style="left:301.00px;top:458.00px;width:45.00px;height:19.00px;background:#fefea3"></div>
<div class="b" style="left:301.00px;top:477.00px;width:45.00px;height:19.00px;background:#fefea3"></div>
<div class="b" style="left:301.00px;top:496.00px;width:45.00px;height:19.00px;background:#fefea3"></div>
<svg width="1272" height="514" viewBox="0 0 1272 514"><g transform="translate(319 374.1) rotate(-45)"><path d="M-6.5 -3.3 H6.5 V-1.3 L5.4 0 L6.5 1.3 V3.3 H-6.5 V1.3 L-5.2 0 L-6.5 -1.3Z" fill="#1fa152" stroke="#1fa152" stroke-width="0.6" stroke-linejoin="round"/><path d="M3.4 -3 V3" stroke="#58bd80" stroke-width="0.5" stroke-dasharray="1 0.8"/></g><g transform="translate(319 507.1) rotate(-45)"><path d="M-6.5 -3.3 H6.5 V-1.3 L5.4 0 L6.5 1.3 V3.3 H-6.5 V1.3 L-5.2 0 L-6.5 -1.3Z" fill="#1fa152" stroke="#1fa152" stroke-width="0.6" stroke-linejoin="round"/><path d="M3.4 -3 V3" stroke="#58bd80" stroke-width="0.5" stroke-dasharray="1 0.8"/></g></svg>
<div class="b" style="left:323.00px;top:116.00px;width:2.00px;height:398.00px;background:#f42020"></div>
<div class="b" style="left:301.00px;top:116.00px;width:918.20px;height:1.00px;background:rgba(60,60,40,.17)"></div>
<div class="b" style="left:301.00px;top:135.00px;width:918.20px;height:1.00px;background:rgba(60,60,40,.17)"></div>
<div class="b" style="left:301.00px;top:154.00px;width:918.20px;height:1.00px;background:rgba(60,60,40,.17)"></div>
<div class="b" style="left:301.00px;top:173.00px;width:918.20px;height:1.00px;background:rgba(60,60,40,.17)"></div>
<div class="b" style="left:301.00px;top:192.00px;width:918.20px;height:1.00px;background:rgba(60,60,40,.17)"></div>
<div class="b" style="left:301.00px;top:211.00px;width:918.20px;height:1.00px;background:rgba(60,60,40,.17)"></div>
<div class="b" style="left:301.00px;top:230.00px;width:918.20px;height:1.00px;background:rgba(60,60,40,.17)"></div>
<div class="b" style="left:301.00px;top:249.00px;width:918.20px;height:1.00px;background:rgba(60,60,40,.17)"></div>
<div class="b" style="left:301.00px;top:268.00px;width:918.20px;height:1.00px;background:rgba(60,60,40,.17)"></div>
<div class="b" style="left:301.00px;top:287.00px;width:918.20px;height:1.00px;background:rgba(60,60,40,.17)"></div>
<div class="b" style="left:301.00px;top:306.00px;width:918.20px;height:1.00px;background:rgba(60,60,40,.17)"></div>
<div class="b" style="left:301.00px;top:325.00px;width:918.20px;height:1.00px;background:rgba(60,60,40,.17)"></div>
<div class="b" style="left:301.00px;top:344.00px;width:918.20px;height:1.00px;background:rgba(60,60,40,.17)"></div>
<div class="b" style="left:301.00px;top:363.00px;width:918.20px;height:1.00px;background:rgba(60,60,40,.17)"></div>
<div class="b" style="left:301.00px;top:382.00px;width:918.20px;height:1.00px;background:rgba(60,60,40,.17)"></div>
<div class="b" style="left:301.00px;top:401.00px;width:918.20px;height:1.00px;background:rgba(60,60,40,.17)"></div>
<div class="b" style="left:301.00px;top:420.00px;width:918.20px;height:1.00px;background:rgba(60,60,40,.17)"></div>
<div class="b" style="left:301.00px;top:439.00px;width:918.20px;height:1.00px;background:rgba(60,60,40,.17)"></div>
<div class="b" style="left:301.00px;top:458.00px;width:918.20px;height:1.00px;background:rgba(60,60,40,.17)"></div>
<div class="b" style="left:301.00px;top:477.00px;width:918.20px;height:1.00px;background:rgba(60,60,40,.17)"></div>
<div class="b" style="left:301.00px;top:496.00px;width:918.20px;height:1.00px;background:rgba(60,60,40,.17)"></div>
<div class="b" style="left:301.00px;top:515.00px;width:918.20px;height:1.00px;background:rgba(60,60,40,.17)"></div>
<div class="b" style="left:345.50px;top:116.00px;width:1.50px;height:398.00px;background:rgba(10,10,20,.09)"></div>
<div class="b" style="left:391.40px;top:116.00px;width:1.50px;height:398.00px;background:rgba(10,10,20,.09)"></div>
<div class="b" style="left:437.30px;top:116.00px;width:1.50px;height:398.00px;background:rgba(10,10,20,.09)"></div>
<div class="b" style="left:483.20px;top:116.00px;width:1.50px;height:398.00px;background:rgba(10,10,20,.09)"></div>
<div class="b" style="left:529.10px;top:116.00px;width:1.50px;height:398.00px;background:rgba(10,10,20,.09)"></div>
<div class="b" style="left:575.00px;top:116.00px;width:1.50px;height:398.00px;background:rgba(10,10,20,.09)"></div>
<div class="b" style="left:620.90px;top:116.00px;width:1.50px;height:398.00px;background:rgba(10,10,20,.09)"></div>
<div class="b" style="left:666.80px;top:116.00px;width:1.50px;height:398.00px;background:rgba(10,10,20,.09)"></div>
<div class="b" style="left:712.70px;top:116.00px;width:1.50px;height:398.00px;background:rgba(10,10,20,.09)"></div>
<div class="b" style="left:758.60px;top:116.00px;width:1.50px;height:398.00px;background:rgba(10,10,20,.09)"></div>
<div class="b" style="left:804.50px;top:116.00px;width:1.50px;height:398.00px;background:rgba(10,10,20,.09)"></div>
<div class="b" style="left:850.40px;top:116.00px;width:1.50px;height:398.00px;background:rgba(10,10,20,.09)"></div>
<div class="b" style="left:896.30px;top:116.00px;width:1.50px;height:398.00px;background:rgba(10,10,20,.09)"></div>
<div class="b" style="left:942.20px;top:116.00px;width:1.50px;height:398.00px;background:rgba(10,10,20,.09)"></div>
<div class="b" style="left:988.10px;top:116.00px;width:1.50px;height:398.00px;background:rgba(10,10,20,.09)"></div>
<div class="b" style="left:1034.00px;top:116.00px;width:1.50px;height:398.00px;background:rgba(10,10,20,.09)"></div>
<div class="b" style="left:1079.90px;top:116.00px;width:1.50px;height:398.00px;background:rgba(10,10,20,.09)"></div>
<div class="b" style="left:1125.80px;top:116.00px;width:1.50px;height:398.00px;background:rgba(10,10,20,.09)"></div>
<div class="b" style="left:1171.70px;top:116.00px;width:1.50px;height:398.00px;background:rgba(10,10,20,.09)"></div>
<div class="b" style="left:1217.60px;top:116.00px;width:1.50px;height:398.00px;background:rgba(10,10,20,.09)"></div>
<svg width="1272" height="514" style="opacity:.95"><path d="M314.0 121.0 L1000.0 121.0 L1000.0 127.0 L319.0 127.0 L314.0 131.5 Z" fill="#6a0a0a"/></svg><div class="b" style="left:315.00px;top:122.00px;width:18.00px;height:2.00px;background:#c9c9c9"></div>
<svg width="1272" height="514" style="opacity:.95"><path d="M314.0 140.0 L1000.0 140.0 L1000.0 146.0 L319.0 146.0 L314.0 150.5 Z" fill="#6a0a0a"/></svg>
<div class="b" style="left:314.00px;top:158.00px;width:686.00px;height:11.00px;background:#b84444;opacity:.86"></div>
<svg width="1272" height="514" style="opacity:.95"><path d="M321.0 197.0 L590.0 197.0 L590.0 203.0 L590.0 207.0 L585.5 203.0 L326.0 203.0 L321.0 207.5 Z" fill="#0c330c"/></svg><div class="b" style="left:322.00px;top:198.00px;width:18.00px;height:2.00px;background:#c9c9c9"></div>
<svg width="1272" height="514" style="opacity:.95"><path d="M321.0 216.0 L551.0 216.0 L551.0 222.0 L551.0 226.0 L546.5 222.0 L326.0 222.0 L321.0 226.5 Z" fill="#0c330c"/></svg><div class="b" style="left:322.00px;top:217.00px;width:16.00px;height:2.00px;background:#c9c9c9"></div>
<div class="b" style="left:321.00px;top:234.00px;width:85.00px;height:11.00px;background:#47b547;opacity:.86"></div><div class="b" style="left:322.00px;top:237.00px;width:27.00px;height:5.00px;background:rgba(40,90,40,.30)"></div>
<div class="b" style="left:321.00px;top:253.00px;width:171.00px;height:11.00px;background:#47b547;opacity:.86"></div><div class="b" style="left:322.00px;top:256.00px;width:16.00px;height:5.00px;background:rgba(40,90,40,.30)"></div>
<div class="b" style="left:492.00px;top:272.00px;width:19.00px;height:11.00px;background:#47b547;opacity:.86"></div>
<div class="b" style="left:511.00px;top:291.00px;width:34.00px;height:11.00px;background:#47b547;opacity:.86"></div>
<div class="b" style="left:544.00px;top:329.00px;width:47.00px;height:11.00px;background:#a6c2a5;opacity:.86"></div>
<div class="b" style="left:511.00px;top:348.00px;width:34.00px;height:11.00px;background:#47b547;opacity:.86"></div>
<svg width="1272" height="514" style="opacity:.95"><path d="M354.0 387.0 L1115.0 387.0 L1115.0 393.0 L1115.0 397.0 L1110.5 393.0 L359.0 393.0 L354.0 397.5 Z" fill="#6a0a0a"/></svg>
<div class="b" style="left:354.00px;top:405.00px;width:761.00px;height:11.00px;background:#47b547;opacity:.86"></div>
<div class="b" style="left:366.00px;top:424.00px;width:99.00px;height:11.00px;background:#47b547;opacity:.86"></div>
<svg width="1272" height="514" style="opacity:.95"><path d="M308.0 444.0 L453.0 444.0 L453.0 450.0 L453.0 454.0 L448.5 450.0 L313.0 450.0 L308.0 454.5 Z" fill="#0c330c"/></svg><div class="b" style="left:309.00px;top:445.00px;width:14.00px;height:2.00px;background:#c9c9c9"></div>
<div class="b" style="left:314.00px;top:462.00px;width:47.00px;height:11.00px;background:#47b547;opacity:.86"></div>
<div class="b" style="left:360.00px;top:481.00px;width:93.00px;height:11.00px;background:#47b547;opacity:.86"></div>
<svg width="1272" height="514" viewBox="0 0 1272 514"><g fill="none" stroke="#000" stroke-width="1.15"><path d="M321 239.5 H312.5 V258.5 H318"/><path d="M492 258.5 H494.5 V269"/><path d="M511 277.5 H514.5 V344"/><path d="M545 296.5 H547.5 V307.5"/><path d="M545 315.5 H536.5 V334.5 H540"/></g><g fill="#000"><path d="M317.4 255.5 L321.2 258.5 L317.4 261.5Z"/><path d="M491.4 268.6 H497.6 L494.5 272.5Z"/><path d="M511.4 287.6 H517.6 L514.5 291.5Z"/><path d="M511.4 343.9 H517.6 L514.5 347.8Z"/><path d="M544.4 307 H550.6 L547.5 310.9Z"/><path d="M540 331.5 L543.9 334.5 L540 337.5Z"/></g><path d="M551.2 309.9 L555.9 314.7 L551.2 319.5 L546.5 314.7Z" fill="#fff" stroke="#5bbd98" stroke-width="1"/></svg>
<svg width="1272" height="514" viewBox="0 0 1272 514"><g fill="none" stroke="#5757a0" stroke-width="1"><rect x="13.6" y="10.6" width="16.8" height="16.6" rx="2.2" stroke-width="1.2"/><path d="M17.8 18.8 H26.2 M22 14.6 V23" stroke="#26268a" stroke-width="2.2"/><path d="M88.4 28.1 A9.3 9.3 0 1 0 80.6 23.8" stroke-width="1.1"/><path d="M83.6 22.2 V26.6 H79.2" stroke="#26268a" stroke-width="1.2"/><path d="M88.2 13.4 V18.7 H92.6" stroke-width="1.2"/><path d="M183.36 18.79 L183.36 21.01 L181.80 21.05 L181.21 22.48 L182.29 23.61 L180.71 25.19 L179.58 24.11 L178.15 24.70 L178.11 26.26 L175.89 26.26 L175.85 24.70 L174.42 24.11 L173.29 25.19 L171.71 23.61 L172.79 22.48 L172.20 21.05 L170.64 21.01 L170.64 18.79 L172.20 18.75 L172.79 17.32 L171.71 16.19 L173.29 14.61 L174.42 15.69 L175.85 15.10 L175.89 13.54 L178.11 13.54 L178.15 15.10 L179.58 15.69 L180.71 14.61 L182.29 16.19 L181.21 17.32 L181.80 18.75Z" fill="none" stroke="#5757a0" stroke-width="0.95" stroke-linejoin="round"/><circle cx="177.00" cy="19.90" r="2.75" fill="none" stroke="#5757a0" stroke-width="0.95"/><rect x="263.5" y="13.7" width="13.2" height="12.7" rx="0.8"/><path d="M265 15.7 H268 M268.3 18.8 H273.5 M268.3 21.8 H272 M271.6 24.8 H277" stroke-width="1.4" stroke="#26268a"/><g fill="none" stroke="#5757a0" stroke-width="0.90"><rect x="358.50" y="14.70" width="4.8" height="4.2" rx="1.1"/><rect x="367.50" y="14.70" width="4.3" height="4.2" rx="0.4"/><rect x="367.50" y="21.60" width="4.3" height="4.0" rx="0.4"/><path d="M363.50 16.80 H367.50 M365.10 16.80 V23.60 H367.50"/></g><path d="M456.40 16.50 H469.80 V18.70 A1.60 1.60 0 0 0 469.80 21.90 V24.10 H456.40 V21.90 A1.60 1.60 0 0 0 456.40 18.70 Z" fill="none" stroke="#5757a0" stroke-width="0.90" stroke-linejoin="round"/><path d="M466.20 17.30 V23.60" stroke="#5757a0" stroke-width="0.8" stroke-dasharray="1.2 1.2" fill="none"/><ellipse cx="549" cy="18.3" rx="6.6" ry="1.7"/><path d="M543.7 19.3 V25 M554.3 19.3 V25 M546.4 20.8 H551.8 M546.4 20.8 V23.8 M551.8 20.8 V23.8"/><circle cx="647.1" cy="20.9" r="5.6"/><path d="M645 13.4 H649.2 V15 M645 13.4 V15 M647.1 13.6 V15.2"/><path d="M647.1 20.9 V17.6 Q650.6 18 650.9 21.6 Z" fill="#26268a" stroke="none"/><path d="M748.3 26.3 Q748.3 22.2 751.6 21.8 L754.2 23.6 L756.8 21.8 Q760.2 22.2 760.2 26.3 Z"/><path d="M751.9 18.2 Q751.9 21.4 754.2 21.4 Q756.5 21.4 756.5 18.2"/><path d="M750.6 18.2 H757.8 Q757.6 15.6 756.6 14.8 L756 16.2 L755.4 13.6 H753 L752.4 16.2 L751.8 14.8 Q750.8 15.6 750.6 18.2Z" fill="#26268a" stroke="none"/><path d="M858 26.4 H852.5 V15.2 H865.5 V19"/><path d="M852.5 17.8 H865.5" stroke-width="0.8"/><circle cx="855.6" cy="14.6" r="1" /><circle cx="859" cy="14.6" r="1"/><circle cx="862.4" cy="14.6" r="1"/><path d="M854.5 20.5 V24 H857" stroke-width="0.8"/><circle cx="861.7" cy="22.6" r="3.9" fill="#fff"/><path d="M860 20.9 L863.4 24.3 M863.4 20.9 L860 24.3" stroke-width="0.9"/><path d="M952.5 26.5 V22.2 H954.9 V26.5 M956.2 26.5 V20 H958.6 V26.5 M959.9 26.5 V21.4 H962.3 V26.5 M963.6 26.5 V18 H966 V26.5 M952 26.5 H966.5" stroke-width="0.9"/><path d="M953.6 18.6 L957.2 15.8 L960.8 17.6 L965.4 13.8" stroke="#26268a"/><circle cx="953.6" cy="18.6" r="0.9" fill="#26268a" stroke="none"/><circle cx="957.2" cy="15.8" r="0.9" fill="#26268a" stroke="none"/><circle cx="960.8" cy="17.6" r="0.9" fill="#26268a" stroke="none"/><circle cx="965.4" cy="13.8" r="1" fill="#26268a" stroke="none"/><path d="M34 59.6 V46.8 Q34 43.9 31.1 43.9 H11.2 Q8.3 43.9 8.3 46.8 V67.8 Q8.3 70.7 11.2 70.7 H21.7" stroke="#6464a6" stroke-width="1.6"/><path d="M10.2 48.5 H17.2 M17.4 54.6 H27.7 M17.2 60.5 H22.3" stroke="#26268a" stroke-width="2.2"/><path d="M17.3 50 V59" stroke="#6464a6" stroke-width="0.6" stroke-dasharray="1 1"/><path d="M21.6 64.6 H34.8 M24.4 58.6 L31.7 70.8 M31.7 58.6 L24.4 70.8" stroke="#26268a" stroke-width="2"/><rect x="932.6" y="44.7" width="19.6" height="26.1" rx="1.2" stroke="#3a3a90" stroke-width="1.5"/><rect x="934.9" y="47" width="14.6" height="5.4" rx="0.5" stroke="#26268a" stroke-width="1.2"/><rect x="935.2" y="55.1" width="3.4" height="3.4" rx="0.8" stroke="#26268a" stroke-width="1.3"/><rect x="940.6" y="55.1" width="3.4" height="3.4" rx="0.8" stroke="#26268a" stroke-width="1.3"/><rect x="945.9" y="55.1" width="3.4" height="3.4" rx="0.8" stroke="#26268a" stroke-width="1.3"/><rect x="935.2" y="60.2" width="3.4" height="3.4" rx="0.8" stroke="#26268a" stroke-width="1.3"/><rect x="940.6" y="60.2" width="3.4" height="3.4" rx="0.8" stroke="#26268a" stroke-width="1.3"/><rect x="945.9" y="60.2" width="3.4" height="3.4" rx="0.8" stroke="#26268a" stroke-width="1.3"/><rect x="935.2" y="65.3" width="3.4" height="3.4" rx="0.8" stroke="#26268a" stroke-width="1.3"/><rect x="940.6" y="65.3" width="3.4" height="3.4" rx="0.8" stroke="#26268a" stroke-width="1.3"/><rect x="945.9" y="65.3" width="3.4" height="3.4" rx="0.8" stroke="#26268a" stroke-width="1.3"/><path d="M1149 49.4 H1146.2 Q1144.3 49.4 1144.3 51.3 V64.4 Q1144.3 66.3 1146.2 66.3 H1156.4 Q1158.3 66.3 1158.3 64.4 V58.4" stroke="#6464a6" stroke-width="1.1"/><circle cx="1154.2" cy="53.4" r="5.6" stroke-width="1"/><path d="M1151.4 53.4 H1157 M1154.2 50.6 V56.2" stroke="#26268a" stroke-width="1"/><path d="M1191 50.2 H1203" stroke="#26268a" stroke-width="1.1"/><path d="M1185 50.2 H1189.6 M1186.2 48.2 L1188.4 52.2 M1188.4 48.2 L1186.2 52.2" stroke="#26268a" stroke-width="0.9"/><path d="M1191 57.0 H1203" stroke="#6464a6" stroke-width="1.1"/><path d="M1185 57.0 H1189.6 M1186.2 55.0 L1188.4 59.0 M1188.4 55.0 L1186.2 59.0" stroke="#26268a" stroke-width="0.9"/><path d="M1191 63.5 H1203" stroke="#26268a" stroke-width="1.1"/><path d="M1185 63.5 H1189.6 M1186.2 61.5 L1188.4 65.5 M1188.4 61.5 L1186.2 65.5" stroke="#26268a" stroke-width="0.9"/><rect x="1231.3" y="49" width="2.7" height="17.7" rx="1.2" fill="#e6e6f3" stroke="#7676b6"/><rect x="1236.0" y="49" width="2.7" height="17.7" rx="1.2" fill="#e6e6f3" stroke="#7676b6"/><rect x="1240.7" y="49" width="2.7" height="17.7" rx="1.2" fill="#e6e6f3" stroke="#7676b6"/></g><path d="M54.5 10.5 H69.4 V27.3 L61.9 23.3 L54.5 27.3 Z" fill="none" stroke="#e87636" stroke-width="1"/><path d="M61.90 13.00 L63.13 15.70 L66.08 16.04 L63.90 18.05 L64.49 20.96 L61.90 19.50 L59.31 20.96 L59.90 18.05 L57.72 16.04 L60.67 15.70 Z" fill="none" stroke="#e87636" stroke-width="1" stroke-linejoin="round"/><path d="M35.8 17.2 h6.4 l-3.2 3.9 Z" fill="#111"/><path d="M1164.8 56.1 h6.4 l-3.2 3.9 Z" fill="#111"/><path d="M1207.8 55.1 h6.4 l-3.2 3.9 Z" fill="#111"/><path d="M1251.8 56.1 h6.4 l-3.2 3.9 Z" fill="#111"/></svg><div class="b" style="left:968.3px;top:52.4px;width:28.5px;height:11.4px;border-radius:6px;background:#4cb151"></div><div class="b" style="left:984.6px;top:52.4px;width:11.2px;height:11.2px;border-radius:50%;background:linear-gradient(#dadada,#a6a6a6);box-shadow:0 0 0 0.6px #8c8c8c"></div>
<div class="b" style="left:989.5px;top:81px;width:225.2px;height:291px;background:#fff;border:1px solid #c8c8c8;border-radius:3px;z-index:20;box-sizing:content-box"></div><svg width="1272" height="514" style="z-index:21"><path d="M1202.6 82.2 L1207.5 73 L1212.4 82.2Z" fill="#fff"/><path d="M1202.6 81.8 L1207.5 73 L1212.4 81.8" fill="none" stroke="#c3d3ea" stroke-width="1"/></svg><div class="b" style="left:1059px;top:92px;width:93.8px;height:27px;background:#efeff6;border:1px solid #cbcbd2;border-radius:5px;z-index:22;box-sizing:content-box"></div><div class="b" style="left:1059px;top:334px;width:93.8px;height:27px;background:#efeff6;border:1px solid #cbcbd2;border-radius:5px;z-index:22;box-sizing:content-box"></div><div class="b" style="left:998px;top:127px;width:209px;height:198px;background:#fff;border:1px solid #a9a9a9;border-left:1.4px solid #9a9a9a;border-top:2px solid #8f8f8f;z-index:22;box-sizing:content-box;box-shadow:inset 0 2px 2px rgba(0,0,0,.12), inset 1px 0 0 #dedede"></div><div class="b" style="left:1199.00px;top:129.00px;width:7.60px;height:197.00px;background:#e3e3ef;z-index:23"></div><div class="b" style="left:1199px;top:145px;width:7.6px;height:181px;background:#a4a4c9;border-radius:4px 4px 0 0;z-index:24"></div><div class="b" style="left:1003.5px;top:129px;width:14px;height:3.5px;border:1px solid #dcdcdc;border-top:none;border-radius:0 0 4px 4px;z-index:24;box-sizing:content-box"></div><div class="b" style="left:1003.5px;top:135.50px;width:14px;height:14px;border:1px solid #dcdcdc;border-radius:4px;background:#fff;z-index:24;box-sizing:content-box"></div><div class="b" style="left:1003.5px;top:154.69px;width:14px;height:14px;border:1px solid #dcdcdc;border-radius:4px;background:#fff;z-index:24;box-sizing:content-box"></div><div class="b" style="left:1003.5px;top:173.88px;width:14px;height:14px;border:1px solid #dcdcdc;border-radius:4px;background:#fff;z-index:24;box-sizing:content-box"></div><div class="b" style="left:1003.5px;top:193.07px;width:14px;height:14px;border:1px solid #dcdcdc;border-radius:4px;background:#fff;z-index:24;box-sizing:content-box"></div><div class="b" style="left:1003.5px;top:212.26px;width:14px;height:14px;border:1px solid #dcdcdc;border-radius:4px;background:#fff;z-index:24;box-sizing:content-box"></div><div class="b" style="left:1003.5px;top:231.45px;width:14px;height:14px;border:1px solid #dcdcdc;border-radius:4px;background:#fff;z-index:24;box-sizing:content-box"></div><div class="b" style="left:1003.5px;top:250.64px;width:14px;height:14px;border:1px solid #dcdcdc;border-radius:4px;background:#fff;z-index:24;box-sizing:content-box"></div><div class="b" style="left:1003.5px;top:269.83px;width:14px;height:14px;border:1px solid #dcdcdc;border-radius:4px;background:#fff;z-index:24;box-sizing:content-box"></div><div class="b" style="left:1003.5px;top:289.02px;width:14px;height:14px;border:1px solid #dcdcdc;border-radius:4px;background:#fff;z-index:24;box-sizing:content-box"></div><div class="b" style="left:1003.5px;top:308.21px;width:14px;height:14px;border:1px solid #dcdcdc;border-radius:4px;background:#fff;z-index:24;box-sizing:content-box"></div><svg width="1272" height="514" style="z-index:25"><path d="M1004.5 319.0 L1006.4 317.1 L1009.5 319.9 L1016.4 313.1 L1018.2 314.6 L1009.5 323.3 Z" fill="#6c6c6c"/></svg>
<span class="t" style="left:188.51px;top:14.52px;font-size:12.50px;color:#515184;font-weight:normal;font-style:normal;font-family:'Liberation Sans';transform:scaleX(1.0914)">Projects</span>
<span class="t" style="left:280.93px;top:14.52px;font-size:12.50px;color:#515184;font-weight:normal;font-style:normal;font-family:'Liberation Sans';transform:scaleX(1.0737)">Planning</span>
<span class="t" style="left:376.90px;top:14.52px;font-size:12.50px;color:#515184;font-weight:normal;font-style:normal;font-family:'Liberation Sans';transform:scaleX(1.1071)">Activities</span>
<span class="t" style="left:475.13px;top:14.52px;font-size:12.50px;color:#515184;font-weight:normal;font-style:normal;font-family:'Liberation Sans';transform:scaleX(1.0827)">Tickets</span>
<span class="t" style="left:560.92px;top:14.52px;font-size:12.50px;color:#515184;font-weight:normal;font-style:normal;font-family:'Liberation Sans';transform:scaleX(1.0757)">Meetings</span>
<span class="t" style="left:659.03px;top:14.52px;font-size:12.50px;color:#515184;font-weight:normal;font-style:normal;font-family:'Liberation Sans';transform:scaleX(1.0787)">Timesheet</span>
<span class="t" style="left:764.97px;top:14.52px;font-size:12.50px;color:#515184;font-weight:normal;font-style:normal;font-family:'Liberation Sans';transform:scaleX(1.0292)">Resources</span>
<span class="t" style="left:871.00px;top:14.52px;font-size:12.50px;color:#515184;font-weight:normal;font-style:normal;font-family:'Liberation Sans';transform:scaleX(1.0194)">Absences</span>
<span class="t" style="left:970.22px;top:14.52px;font-size:12.50px;color:#515184;font-weight:normal;font-style:normal;font-family:'Liberation Sans';transform:scaleX(1.0799)">Reports</span>
<span class="t" style="left:126.89px;top:12.08px;font-size:17.50px;color:#47478a;font-weight:bold;font-style:normal;font-family:'Liberation Serif';transform:scaleX(1.3257)">1</span>
<span class="t" style="left:46.98px;top:49.10px;font-size:14.00px;color:#3b3b7a;font-weight:bold;font-style:normal;font-family:'Liberation Sans';transform:scaleX(1.1988)">Global planning</span>
<span class="t" style="left:1005.27px;top:50.90px;font-size:13.00px;color:#515184;font-weight:normal;font-style:normal;font-family:'Liberation Sans';transform:scaleX(1.0688)">automatic run plan</span>
<span class="t" style="left:44.31px;top:80.23px;font-size:10.00px;color:#fff;font-weight:bold;font-style:normal;font-family:'Liberation Sans';transform:scaleX(1.1526)">Scale :</span>
<span class="t" style="left:100.57px;top:80.83px;font-size:10.00px;color:#fff;font-weight:bold;font-style:normal;font-family:'Liberation Sans';transform:scaleX(1.0702)">day</span>
<span class="t" style="left:140.75px;top:80.83px;font-size:10.00px;color:#fff;font-weight:bold;font-style:normal;font-family:'Liberation Sans';transform:scaleX(1.0183)">week</span>
<span class="t" style="left:187.03px;top:80.83px;font-size:10.00px;color:#fff;font-weight:bold;font-style:normal;font-family:'Liberation Sans';transform:scaleX(1.0345)">month</span>
<span class="t" style="left:240.38px;top:80.83px;font-size:10.00px;color:#fff;font-weight:bold;font-style:normal;font-family:'Liberation Sans';transform:scaleX(1.0439)">quarter</span>
<span class="t" style="left:22.30px;top:102.03px;font-size:10.00px;color:#fff;font-weight:bold;font-style:normal;font-family:'Liberation Sans';transform:scaleX(1.0324)">task</span>
<span class="t" style="left:37.34px;top:119.68px;font-size:10.30px;color:#111;font-weight:bold;font-style:normal;font-family:'Liberation Sans';transform:scaleX(1.0085)">project one</span>
<span class="t" style="left:51.95px;top:138.68px;font-size:10.30px;color:#111;font-weight:bold;font-style:normal;font-family:'Liberation Sans';transform:scaleX(1.0067)">project one - maintenance</span>
<span class="t" style="left:66.35px;top:157.68px;font-size:10.30px;color:#111;font-weight:normal;font-style:normal;font-family:'Liberation Sans';transform:scaleX(0.9927)">bug fixing</span>
<span class="t" style="left:37.36px;top:176.68px;font-size:10.30px;color:#111;font-weight:normal;font-style:normal;font-family:'Liberation Sans';transform:scaleX(0.9900)">bug: it does not work</span>
<span class="t" style="left:51.95px;top:195.68px;font-size:10.30px;color:#111;font-weight:bold;font-style:normal;font-family:'Liberation Sans';transform:scaleX(1.0045)">project one - developement</span>
<span class="t" style="left:66.36px;top:214.68px;font-size:10.30px;color:#111;font-weight:bold;font-style:normal;font-family:'Liberation Sans';transform:scaleX(0.9869)">Evolution X</span>
<span class="t" style="left:81.50px;top:233.68px;font-size:10.30px;color:#111;font-weight:normal;font-style:normal;font-family:'Liberation Sans';transform:scaleX(0.9443)">Ateliers</span>
<span class="t" style="left:80.74px;top:252.68px;font-size:10.30px;color:#111;font-weight:normal;font-style:normal;font-family:'Liberation Sans';transform:scaleX(0.9527)">Evolutoin X - Analysis</span>
<span class="t" style="left:80.73px;top:271.68px;font-size:10.30px;color:#111;font-weight:normal;font-style:normal;font-family:'Liberation Sans';transform:scaleX(0.9588)">Evolution X - Development</span>
<span class="t" style="left:80.73px;top:290.68px;font-size:10.30px;color:#111;font-weight:normal;font-style:normal;font-family:'Liberation Sans';transform:scaleX(0.9590)">Evolution X - Tests</span>
<span class="t" style="left:81.21px;top:309.68px;font-size:10.30px;color:#111;font-weight:normal;font-style:italic;font-family:'Liberation Sans';transform:scaleX(0.9542)">Delivery of Evolution X</span>
<span class="t" style="left:66.24px;top:328.68px;font-size:10.30px;color:#111;font-weight:normal;font-style:normal;font-family:'Liberation Sans';transform:scaleX(0.9475)">Evolution Y</span>
<span class="t" style="left:52.60px;top:347.68px;font-size:10.30px;color:#111;font-weight:normal;font-style:normal;font-family:'Liberation Sans';transform:scaleX(0.9449)">Web Application V1 - Main test session</span>
<span class="t" style="left:37.23px;top:366.68px;font-size:10.30px;color:#111;font-weight:normal;font-style:normal;font-family:'Liberation Sans';transform:scaleX(0.9563)">Enter some quotes on filed names : error Message</span>
<span class="t" style="left:37.33px;top:385.68px;font-size:10.30px;color:#111;font-weight:bold;font-style:normal;font-family:'Liberation Sans';transform:scaleX(1.0317)">project two</span>
<span class="t" style="left:51.85px;top:404.68px;font-size:10.30px;color:#111;font-weight:normal;font-style:normal;font-family:'Liberation Sans';transform:scaleX(0.9399)">Management</span>
<span class="t" style="left:52.36px;top:423.68px;font-size:10.30px;color:#111;font-weight:normal;font-style:normal;font-family:'Liberation Sans';transform:scaleX(0.9780)">On site Intervention</span>
<span class="t" style="left:37.53px;top:442.68px;font-size:10.30px;color:#111;font-weight:bold;font-style:normal;font-family:'Liberation Sans';transform:scaleX(1.0243)">project three</span>
<span class="t" style="left:51.86px;top:461.68px;font-size:10.30px;color:#111;font-weight:normal;font-style:normal;font-family:'Liberation Sans';transform:scaleX(0.9843)">Incidents</span>
<span class="t" style="left:52.04px;top:480.68px;font-size:10.30px;color:#111;font-weight:normal;font-style:normal;font-family:'Liberation Sans';transform:scaleX(0.9509)">Planifier</span>
<span class="t" style="left:38.06px;top:499.68px;font-size:10.30px;color:#111;font-weight:normal;font-style:normal;font-family:'Liberation Sans';transform:scaleX(0.9644)">testrecup</span>
<span class="t" style="left:306.30px;top:81.43px;font-size:10.00px;color:#fff;font-weight:bold;font-style:normal;font-family:'Liberation Sans';transform:scaleX(1.1639)">21 #35</span>
<span class="t" style="left:309.80px;top:101.33px;font-size:10.00px;color:#111;font-weight:normal;font-style:normal;font-family:'Liberation Sans';transform:scaleX(1.1429)">08/30</span>
<span class="t" style="left:352.20px;top:81.43px;font-size:10.00px;color:#fff;font-weight:bold;font-style:normal;font-family:'Liberation Sans';transform:scaleX(1.1639)">21 #36</span>
<span class="t" style="left:355.70px;top:101.33px;font-size:10.00px;color:#111;font-weight:normal;font-style:normal;font-family:'Liberation Sans';transform:scaleX(1.1429)">09/06</span>
<span class="t" style="left:398.10px;top:81.43px;font-size:10.00px;color:#fff;font-weight:bold;font-style:normal;font-family:'Liberation Sans';transform:scaleX(1.1639)">21 #37</span>
<span class="t" style="left:401.60px;top:101.33px;font-size:10.00px;color:#111;font-weight:normal;font-style:normal;font-family:'Liberation Sans';transform:scaleX(1.1429)">09/13</span>
<span class="t" style="left:444.00px;top:81.43px;font-size:10.00px;color:#fff;font-weight:bold;font-style:normal;font-family:'Liberation Sans';transform:scaleX(1.1639)">21 #38</span>
<span class="t" style="left:447.50px;top:101.33px;font-size:10.00px;color:#111;font-weight:normal;font-style:normal;font-family:'Liberation Sans';transform:scaleX(1.1429)">09/20</span>
<span class="t" style="left:489.90px;top:81.43px;font-size:10.00px;color:#fff;font-weight:bold;font-style:normal;font-family:'Liberation Sans';transform:scaleX(1.1639)">21 #39</span>
<span class="t" style="left:493.40px;top:101.33px;font-size:10.00px;color:#111;font-weight:normal;font-style:normal;font-family:'Liberation Sans';transform:scaleX(1.1429)">09/27</span>
<span class="t" style="left:535.80px;top:81.43px;font-size:10.00px;color:#fff;font-weight:bold;font-style:normal;font-family:'Liberation Sans';transform:scaleX(1.1639)">21 #40</span>
<span class="t" style="left:539.30px;top:101.33px;font-size:10.00px;color:#111;font-weight:normal;font-style:normal;font-family:'Liberation Sans';transform:scaleX(1.1429)">10/04</span>
<span class="t" style="left:581.70px;top:81.43px;font-size:10.00px;color:#fff;font-weight:bold;font-style:normal;font-family:'Liberation Sans';transform:scaleX(1.1639)">21 #41</span>
<span class="t" style="left:585.20px;top:101.33px;font-size:10.00px;color:#111;font-weight:normal;font-style:normal;font-family:'Liberation Sans';transform:scaleX(1.1778)">10/11</span>
<span class="t" style="left:627.60px;top:81.43px;font-size:10.00px;color:#fff;font-weight:bold;font-style:normal;font-family:'Liberation Sans';transform:scaleX(1.1639)">21 #42</span>
<span class="t" style="left:631.10px;top:101.33px;font-size:10.00px;color:#111;font-weight:normal;font-style:normal;font-family:'Liberation Sans';transform:scaleX(1.1429)">10/18</span>
<span class="t" style="left:673.50px;top:81.43px;font-size:10.00px;color:#fff;font-weight:bold;font-style:normal;font-family:'Liberation Sans';transform:scaleX(1.1639)">21 #43</span>
<span class="t" style="left:677.00px;top:101.33px;font-size:10.00px;color:#111;font-weight:normal;font-style:normal;font-family:'Liberation Sans';transform:scaleX(1.1429)">10/25</span>
<span class="t" style="left:719.40px;top:81.43px;font-size:10.00px;color:#fff;font-weight:bold;font-style:normal;font-family:'Liberation Sans';transform:scaleX(1.1639)">21 #44</span>
<span class="t" style="left:722.90px;top:101.33px;font-size:10.00px;color:#111;font-weight:normal;font-style:normal;font-family:'Liberation Sans';transform:scaleX(1.1778)">11/01</span>
<span class="t" style="left:765.30px;top:81.43px;font-size:10.00px;color:#fff;font-weight:bold;font-style:normal;font-family:'Liberation Sans';transform:scaleX(1.1639)">21 #45</span>
<span class="t" style="left:768.80px;top:101.33px;font-size:10.00px;color:#111;font-weight:normal;font-style:normal;font-family:'Liberation Sans';transform:scaleX(1.1778)">11/08</span>
<span class="t" style="left:811.20px;top:81.43px;font-size:10.00px;color:#fff;font-weight:bold;font-style:normal;font-family:'Liberation Sans';transform:scaleX(1.1639)">21 #46</span>
<span class="t" style="left:814.70px;top:101.33px;font-size:10.00px;color:#111;font-weight:normal;font-style:normal;font-family:'Liberation Sans';transform:scaleX(1.1778)">11/15</span>
<span class="t" style="left:857.10px;top:81.43px;font-size:10.00px;color:#fff;font-weight:bold;font-style:normal;font-family:'Liberation Sans';transform:scaleX(1.1639)">21 #47</span>
<span class="t" style="left:860.60px;top:101.33px;font-size:10.00px;color:#111;font-weight:normal;font-style:normal;font-family:'Liberation Sans';transform:scaleX(1.1778)">11/22</span>
<span class="t" style="left:903.00px;top:81.43px;font-size:10.00px;color:#fff;font-weight:bold;font-style:normal;font-family:'Liberation Sans';transform:scaleX(1.1639)">21 #48</span>
<span class="t" style="left:906.50px;top:101.33px;font-size:10.00px;color:#111;font-weight:normal;font-style:normal;font-family:'Liberation Sans';transform:scaleX(1.1778)">11/29</span>
<span class="t" style="left:948.90px;top:81.43px;font-size:10.00px;color:#fff;font-weight:bold;font-style:normal;font-family:'Liberation Sans';transform:scaleX(1.1639)">21 #49</span>
<span class="t" style="left:952.40px;top:101.33px;font-size:10.00px;color:#111;font-weight:normal;font-style:normal;font-family:'Liberation Sans';transform:scaleX(1.1429)">12/06</span>
<span class="t" style="left:1022.00px;top:138.82px;font-size:12.50px;color:#1a1a1a;font-weight:normal;font-style:normal;font-family:'Liberation Sans';transform:scaleX(1.0489);z-index:30">Action</span>
<span class="t" style="left:1020.95px;top:157.82px;font-size:12.50px;color:#1a1a1a;font-weight:normal;font-style:normal;font-family:'Liberation Sans';transform:scaleX(1.0513);z-index:30">Decision</span>
<span class="t" style="left:1020.93px;top:176.82px;font-size:12.50px;color:#1a1a1a;font-weight:normal;font-style:normal;font-family:'Liberation Sans';transform:scaleX(1.0659);z-index:30">Deliverable</span>
<span class="t" style="left:1020.92px;top:195.82px;font-size:12.50px;color:#1a1a1a;font-weight:normal;font-style:normal;font-family:'Liberation Sans';transform:scaleX(1.0782);z-index:30">Delivery</span>
<span class="t" style="left:1020.73px;top:215.82px;font-size:12.50px;color:#1a1a1a;font-weight:normal;font-style:normal;font-family:'Liberation Sans';transform:scaleX(1.1073);z-index:30">Incoming</span>
<span class="t" style="left:1020.76px;top:234.82px;font-size:12.50px;color:#1a1a1a;font-weight:normal;font-style:normal;font-family:'Liberation Sans';transform:scaleX(1.0774);z-index:30">Issues</span>
<span class="t" style="left:1021.40px;top:254.82px;font-size:12.50px;color:#1a1a1a;font-weight:normal;font-style:normal;font-family:'Liberation Sans';transform:scaleX(1.0848);z-index:30">Opportunity</span>
<span class="t" style="left:1021.42px;top:273.82px;font-size:12.50px;color:#1a1a1a;font-weight:normal;font-style:normal;font-family:'Liberation Sans';transform:scaleX(1.0518);z-index:30">Question</span>
<span class="t" style="left:1020.97px;top:292.82px;font-size:12.50px;color:#1a1a1a;font-weight:normal;font-style:normal;font-family:'Liberation Sans';transform:scaleX(1.0277);z-index:30">Risk</span>
<span class="t" style="left:1021.74px;top:311.82px;font-size:12.50px;color:#1a1a1a;font-weight:normal;font-style:normal;font-family:'Liberation Sans';transform:scaleX(1.0445);z-index:30">Ticket</span>
<span class="t" style="left:1098.47px;top:101.02px;font-size:12.50px;color:#515184;font-weight:normal;font-style:normal;font-family:'Liberation Sans';transform:scaleX(0.9555);z-index:30">OK</span>
<span class="t" style="left:1098.47px;top:343.22px;font-size:12.50px;color:#515184;font-weight:normal;font-style:normal;font-family:'Liberation Sans';transform:scaleX(0.9555);z-index:30">OK</span>
</div>
</body></html>
